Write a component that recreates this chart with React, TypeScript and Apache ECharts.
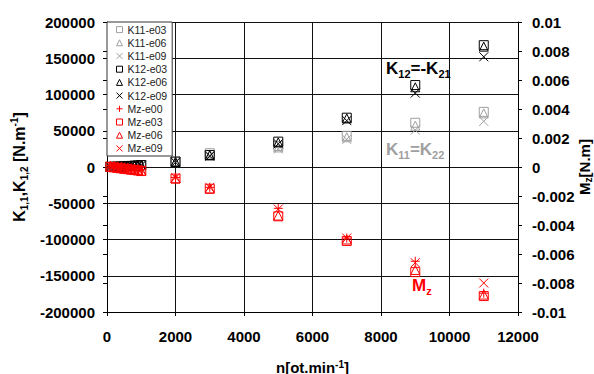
import React, { useEffect, useRef } from 'react';
import * as echarts from 'echarts';

const FONT = 'Arial, "Liberation Sans", sans-serif';

const nValues = [100, 200, 300, 400, 500, 600, 700, 800, 900, 1000, 2000, 3000, 5000, 7000, 9000, 11000];

const k11e03 = [200, 300, 500, 700, 900, 1100, 1400, 1700, 2000, 2400, 7500, 19000, 29000, 43000, 61000, 76000];
const k11e06 = [200, 300, 450, 650, 850, 1050, 1300, 1600, 1900, 2300, 7000, 17500, 27000, 41000, 57000, 74000];
const k11e09 = [150, 250, 400, 600, 800, 1000, 1200, 1500, 1800, 2200, 6500, 16000, 25000, 38000, 51000, 63000];

const k12e03 = [200, 350, 500, 700, 900, 1200, 1500, 1800, 2200, 2700, 7500, 16500, 35000, 68000, 113000, 168000];
const k12e06 = [200, 300, 500, 650, 850, 1100, 1400, 1700, 2100, 2600, 7000, 16000, 34000, 67000, 110000, 166000];
const k12e09 = [150, 300, 450, 600, 800, 1000, 1300, 1600, 2000, 2400, 6500, 15000, 32000, 64000, 102000, 152000];

const mzE00 = [0.0001, 0.00007, 0.00004, 0.00001, -0.00002, -0.00005, -0.00008, -0.00011, -0.00014, -0.00017, -0.00072, -0.0014, -0.00285, -0.0049, -0.0065, -0.0087];
const mzE03 = [0, -0.00003, -0.00006, -0.00009, -0.00012, -0.00015, -0.00018, -0.00021, -0.00024, -0.00028, -0.0008, -0.0015, -0.0034, -0.0051, -0.00725, -0.0089];
const mzE06 = [0.00003, 0, -0.00003, -0.00006, -0.00009, -0.00012, -0.00015, -0.00018, -0.00021, -0.00025, -0.00078, -0.00148, -0.00335, -0.005, -0.0071, -0.0088];
const mzE09 = [0.00008, 0.00005, 0.00002, -0.00001, -0.00004, -0.00007, -0.0001, -0.00013, -0.00016, -0.0002, -0.00074, -0.0014, -0.0029, -0.0049, -0.0066, -0.008];

const xTicks = { min: 0, max: 12000, interval: 2000 };
const kTicks = { min: -200000, max: 200000, interval: 50000 };
const mzTicks = { min: -0.01, max: 0.01, interval: 0.002 };

const SQUARE = 'rect';
const TRI = 'triangle';
const CROSS = 'path://M0,0L10,10M10,0L0,10';
const PLUS = 'path://M5,0L5,10M0,5L10,5';

const GRAY = '#a0a0a0';
const BLACK = '#000000';
const RED = '#ff0000';

const seriesDefs = [
  { name: 'K11-e03', data: k11e03, symbol: SQUARE, color: GRAY, axis: 0 },
  { name: 'K11-e06', data: k11e06, symbol: TRI, color: GRAY, axis: 0 },
  { name: 'K11-e09', data: k11e09, symbol: CROSS, color: GRAY, axis: 0 },
  { name: 'K12-e03', data: k12e03, symbol: SQUARE, color: BLACK, axis: 0 },
  { name: 'K12-e06', data: k12e06, symbol: TRI, color: BLACK, axis: 0 },
  { name: 'K12-e09', data: k12e09, symbol: CROSS, color: BLACK, axis: 0 },
  { name: 'Mz-e00', data: mzE00, symbol: PLUS, color: RED, axis: 1 },
  { name: 'Mz-e03', data: mzE03, symbol: SQUARE, color: RED, axis: 1 },
  { name: 'Mz-e06', data: mzE06, symbol: TRI, color: RED, axis: 1 },
  { name: 'Mz-e09', data: mzE09, symbol: CROSS, color: RED, axis: 1 },
];

const fmt = (v: number) => String(parseFloat(v.toFixed(6)));

export default function App() {
  const ref = useRef<HTMLDivElement>(null);
  useEffect(() => {
    if (!ref.current) return;
    const chart = echarts.init(ref.current, undefined, { renderer: 'svg' });
    const labelStyle = { fontFamily: FONT, fontSize: 15, fontWeight: 'bold', color: '#000' };
    const option: any = {
      animation: false,
      backgroundColor: '#fff',
      grid: { left: 107, right: 76, top: 22, bottom: 62, containLabel: false, outerBoundsMode: 'none' },
      xAxis: [
        {
          type: 'value', ...xTicks, position: 'bottom',
          axisLine: { show: true, onZero: false, lineStyle: { color: '#000', width: 1 } },
          axisTick: { show: true, length: 4, inside: false, lineStyle: { color: '#000' } },
          axisLabel: { ...labelStyle, margin: 17, formatter: fmt },
          splitLine: { show: true, lineStyle: { color: '#111', width: 1 } },
          name: '{a|n[ot.min}{s|-1}{a|]}',
          nameLocation: 'middle', nameGap: 47,
          nameTextStyle: {
            rich: {
              a: { fontFamily: FONT, fontSize: 15, fontWeight: 'bold', color: '#000', lineHeight: 16 },
              s: { fontFamily: FONT, fontSize: 10, fontWeight: 'bold', color: '#000', verticalAlign: 'top', lineHeight: 16 },
            },
          },
        },
        {
          type: 'value', ...xTicks, position: 'bottom', gridIndex: 0,
          axisLine: { show: false },
          axisTick: { show: true, length: 4, inside: true, lineStyle: { color: '#000' } },
          axisLabel: { show: false },
          splitLine: { show: false },
        },
      ],
      yAxis: [
        {
          type: 'value', ...kTicks, position: 'left',
          axisLine: { show: true, onZero: false, lineStyle: { color: '#000', width: 1 } },
          axisTick: { show: true, length: 4, lineStyle: { color: '#000' } },
          axisLabel: { ...labelStyle, margin: 12, formatter: fmt },
          splitLine: { show: true, lineStyle: { color: '#111', width: 1 } },
          name: '{a|K}{s|1,1}{a|,K}{s|1,2}{a| [N.m}{p|-1}{a|]}',
          nameLocation: 'middle', nameGap: 75, nameRotate: 90,
          nameTextStyle: {
            rich: {
              a: { fontFamily: FONT, fontSize: 16, fontWeight: 'bold', color: '#000', lineHeight: 20 },
              s: { fontFamily: FONT, fontSize: 10, fontWeight: 'bold', color: '#000', verticalAlign: 'bottom', lineHeight: 20 },
              p: { fontFamily: FONT, fontSize: 10, fontWeight: 'bold', color: '#000', verticalAlign: 'top', lineHeight: 20 },
            },
          },
        },
        {
          type: 'value', ...mzTicks, position: 'right',
          axisLine: { show: true, onZero: false, lineStyle: { color: '#000', width: 1 } },
          axisTick: { show: true, length: 4, lineStyle: { color: '#000' } },
          axisLabel: { ...labelStyle, margin: 14, formatter: fmt },
          splitLine: { show: false },
          name: '{a|M}{s|z}{a|[N.m]}',
          nameLocation: 'middle', nameGap: 57, nameRotate: 90, nameMoveOverlap: false,
          nameTextStyle: {
            rich: {
              a: { fontFamily: FONT, fontSize: 15, fontWeight: 'bold', color: '#000', lineHeight: 18 },
              s: { fontFamily: FONT, fontSize: 10, fontWeight: 'bold', color: '#000', verticalAlign: 'bottom', lineHeight: 18 },
            },
          },
        },
        {
          type: 'value', ...mzTicks, position: 'right',
          axisLine: { show: false },
          axisTick: { show: true, length: 4, inside: true, lineStyle: { color: '#000' } },
          axisLabel: { show: false },
          splitLine: { show: false },
        },
      ],
      legend: {
        orient: 'vertical', left: 107, top: 22,
        padding: [1, 5, 1, 9],
        itemWidth: 6, itemHeight: 6, itemGap: 0,
        backgroundColor: '#fff', borderColor: '#333', borderWidth: 1,
        textStyle: { fontFamily: FONT, fontSize: 10.5, color: '#222', lineHeight: 13.2 },
        data: seriesDefs.map((s) => ({
          name: s.name,
          icon: s.symbol,
          itemStyle: { color: 'rgba(0,0,0,0)', borderColor: s.color, borderWidth: 1 },
        })),
      },
      graphic: [
        {
          type: 'text', left: 386, top: 60, z: 50,
          style: {
            text: '{a|K}{s|12}{a|=-K}{s|21}',
            rich: {
              a: { fontFamily: FONT, fontSize: 17, fontWeight: 'bold', fill: '#000', lineHeight: 21 },
              s: { fontFamily: FONT, fontSize: 11, fontWeight: 'bold', fill: '#000', verticalAlign: 'bottom', lineHeight: 21 },
            },
          },
        },
        {
          type: 'text', left: 386, top: 141, z: 50,
          style: {
            text: '{a|K}{s|11}{a|=K}{s|22}',
            rich: {
              a: { fontFamily: FONT, fontSize: 17, fontWeight: 'bold', fill: GRAY, lineHeight: 21 },
              s: { fontFamily: FONT, fontSize: 11, fontWeight: 'bold', fill: GRAY, verticalAlign: 'bottom', lineHeight: 21 },
            },
          },
        },
        {
          type: 'text', left: 412, top: 277, z: 50,
          style: {
            text: '{a|M}{s|z}',
            rich: {
              a: { fontFamily: FONT, fontSize: 17, fontWeight: 'bold', fill: RED, lineHeight: 21 },
              s: { fontFamily: FONT, fontSize: 11, fontWeight: 'bold', fill: RED, verticalAlign: 'bottom', lineHeight: 21 },
            },
          },
        },
      ],
      series: seriesDefs.map((s) => ({
        name: s.name,
        type: 'scatter',
        xAxisIndex: 0,
        yAxisIndex: s.axis,
        symbol: s.symbol,
        symbolSize: 9,
        itemStyle: { color: 'rgba(0,0,0,0)', borderColor: s.color, borderWidth: 1, opacity: 1 },
        emphasis: { disabled: true },
        data: nValues.map((n, i) => [n, s.data[i]]),
      })),
    };
    chart.setOption(option);
    return () => chart.dispose();
  }, []);
  return <div ref={ref} style={{ position: 'fixed', left: 0, top: 0, width: 594, height: 374 }} />;
}
